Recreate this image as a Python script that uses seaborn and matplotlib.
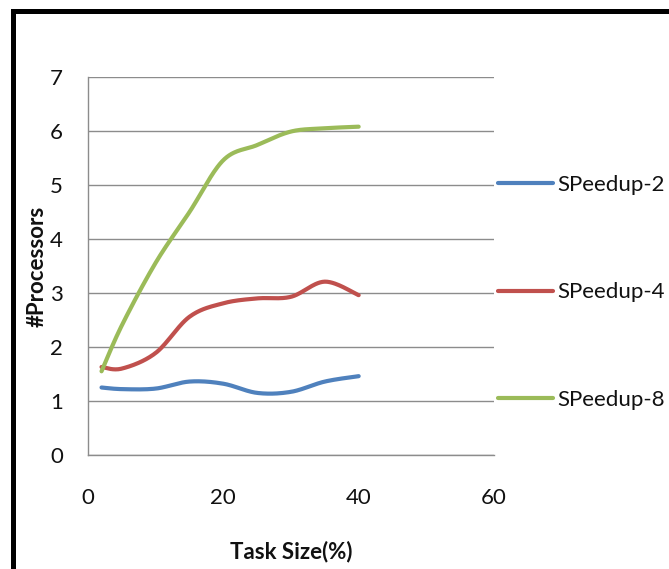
import numpy as np
import pandas as pd
import matplotlib
matplotlib.use("Agg")
import matplotlib.pyplot as plt
from matplotlib.patches import Rectangle
import seaborn as sns

# Task size (%) and measured speedup for each processor count
task_size = [2, 5, 10, 15, 20, 25, 30, 35, 40]
speedup_2 = [1.25, 1.22, 1.23, 1.36, 1.32, 1.15, 1.17, 1.36, 1.46]
speedup_4 = [1.63, 1.60, 1.89, 2.56, 2.81, 2.90, 2.93, 3.21, 2.96]
speedup_8 = [1.55, 2.40, 3.56, 4.50, 5.46, 5.74, 5.99, 6.05, 6.08]
series_names = ["SPeedup-2", "SPeedup-4", "SPeedup-8"]
series_colors = ["#4F81BD", "#C0504D", "#9BBB59"]
x_ticks = [0, 20, 40, 60]
y_ticks = [0, 1, 2, 3, 4, 5, 6, 7]


def smooth_curve(xs, ys, steps=30):
    """Cubic Bezier through every point, control points from neighbours."""
    xs = np.asarray(xs, float)
    ys = np.asarray(ys, float)
    n = len(xs)
    out_x, out_y = [], []
    t = np.linspace(0, 1, steps)
    for i in range(n - 1):
        p0 = np.array([xs[i], ys[i]])
        p3 = np.array([xs[i + 1], ys[i + 1]])
        prev = np.array([xs[max(i - 1, 0)], ys[max(i - 1, 0)]])
        nxt = np.array([xs[min(i + 2, n - 1)], ys[min(i + 2, n - 1)]])
        c1 = p0 + (p3 - prev) / 6.0
        c2 = p3 - (nxt - p0) / 6.0
        pts = ((1 - t) ** 3)[:, None] * p0 + (3 * (1 - t) ** 2 * t)[:, None] * c1 \
            + (3 * (1 - t) * t ** 2)[:, None] * c2 + (t ** 3)[:, None] * p3
        if i > 0:
            pts = pts[1:]
        out_x.extend(pts[:, 0])
        out_y.extend(pts[:, 1])
    return out_x, out_y


frames = []
for name, vals in zip(series_names, [speedup_2, speedup_4, speedup_8]):
    cx, cy = smooth_curve(task_size, vals)
    frames.append(pd.DataFrame({"Task Size(%)": cx, "#Processors": cy, "series": name}))
df = pd.concat(frames, ignore_index=True)

sns.set_style("white")
plt.rcParams["font.family"] = ["Lato", "DejaVu Sans"]

W, H = 669, 569
FS = 16
fig = plt.figure(figsize=(W / 100, H / 100), dpi=100)
ax = fig.add_axes([88 / W, 1 - 455 / H, (494 - 88) / W, (455 - 77) / H])

sns.lineplot(data=df, x="Task Size(%)", y="#Processors", hue="series",
             palette=series_colors, hue_order=series_names, sort=False,
             estimator=None, linewidth=3.0, ax=ax, legend=True)

ax.set_xlim(0, 60)
ax.set_ylim(0, 7)
ax.set_xticks(x_ticks)
ax.set_yticks(y_ticks)
ax.tick_params(axis="both", length=0, labelsize=FS, colors="#111111")
ax.tick_params(axis="x", pad=24)
ax.tick_params(axis="y", pad=18)
ax.yaxis.grid(True, color="#8C8C8C", linewidth=1.0)
ax.xaxis.grid(False)
for side in ["top", "right"]:
    ax.spines[side].set_visible(False)
for side in ["left", "bottom"]:
    ax.spines[side].set_color("#8C8C8C")
    ax.spines[side].set_linewidth(1.0)

ax.set_xlabel("Task Size(%)", fontsize=FS, fontweight="bold", labelpad=23.5, color="#111111")
ax.set_ylabel("#Processors", fontsize=FS, fontweight="bold", labelpad=2, color="#111111")

leg = ax.legend(loc="center left", bbox_to_anchor=(1.0, 0.43), frameon=False,
                fontsize=FS, handlelength=2.48, handletextpad=0.18,
                labelspacing=3.95, borderaxespad=0.18, borderpad=0)
for line in leg.get_lines():
    line.set_linewidth(3.0)
for text in leg.get_texts():
    text.set_color("#111111")

# Heavy frame along the top and left of the figure
fig.patches.append(Rectangle((12.5 / W, -0.1), 1.2, 1 - 10.5 / H + 0.1, transform=fig.transFigure,
                             fill=False, edgecolor="black", linewidth=3.6))

fig.savefig("out.png", dpi=100)
